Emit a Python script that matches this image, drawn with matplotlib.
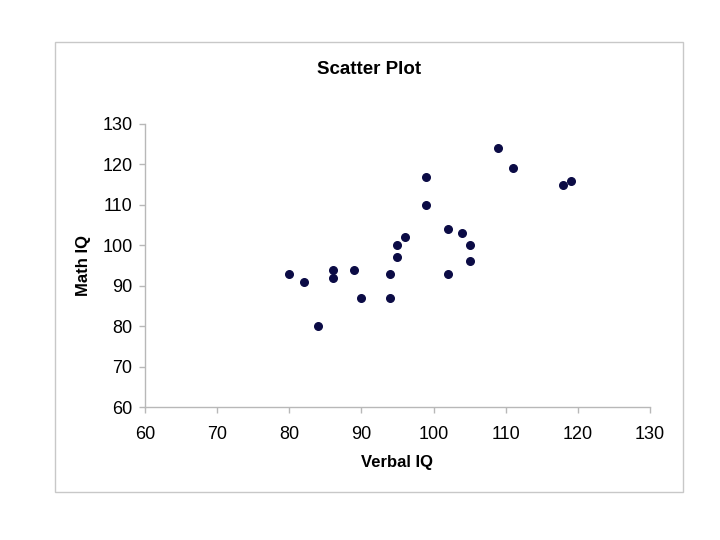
import matplotlib
matplotlib.use("Agg")
import matplotlib.pyplot as plt
from matplotlib.patches import Rectangle

verbal_iq = [80, 82, 84, 86, 86, 89, 90, 94, 94, 95, 95, 96, 99, 99, 102, 102, 104, 105, 105, 109, 111, 118, 119]
math_iq = [93, 91, 80, 94, 92, 94, 87, 93, 87, 97, 100, 102, 117, 110, 104, 93, 103, 100, 96, 124, 119, 115, 116]
ticks = [60, 70, 80, 90, 100, 110, 120, 130]

plt.rcParams['font.family'] = ['Liberation Sans', 'DejaVu Sans']

fig = plt.figure(figsize=(7.2, 5.4), dpi=100)
fig.patch.set_facecolor('white')
fig.patches.append(Rectangle((55/720, 1-492/540), 628/720, 450/540, transform=fig.transFigure,
                             fill=False, edgecolor='#c8c8c8', linewidth=1.0))

ax = fig.add_axes([145/720, 1-407/540, 505/720, 283/540])
ax.scatter(verbal_iq, math_iq, s=30, color='#0b0b45', zorder=3)
ax.set_xlim(60, 130)
ax.set_ylim(60, 130)
ax.set_xticks(ticks)
ax.set_yticks(ticks)
for s in ['top', 'right']:
    ax.spines[s].set_visible(False)
for s in ['left', 'bottom']:
    ax.spines[s].set_color('#b8b8b8')
    ax.spines[s].set_linewidth(1.0)
ax.tick_params(colors='#b8b8b8', labelcolor='black', labelsize=13, length=4, width=1.0, direction='out')
ax.tick_params(axis='x', pad=10)
ax.tick_params(axis='y', pad=5)
ax.set_xlabel('Verbal IQ', fontsize=12, fontweight='bold', labelpad=8)
ax.set_ylabel('Math IQ', fontsize=12, fontweight='bold', labelpad=8)
fig.text(369/720, 1-70/540, 'Scatter Plot', ha='center', va='center', fontsize=13.5, fontweight='bold')

fig.savefig('out.png', dpi=100)
